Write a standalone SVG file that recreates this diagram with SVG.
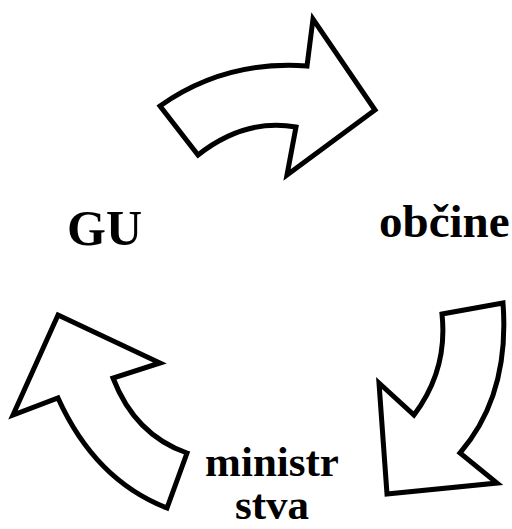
<svg xmlns="http://www.w3.org/2000/svg" width="512" height="529" viewBox="0 0 512 529">
<style>
.arrow{fill:#fff;stroke:#000;stroke-width:5;stroke-linejoin:miter;stroke-miterlimit:10}
.lbl{font-family:"Liberation Serif","Times New Roman",serif;font-weight:bold;fill:#000}
</style>
<rect width="512" height="529" fill="#fff"/>
<g id="connectors">
<path id="arrow-top" class="arrow" d="M160,106 Q225,60 307,66 L313,19 L375,110 L287,175 L296,127 Q245,118 198,155 Z"/>
<path id="arrow-right" class="arrow" d="M442,314 L503,303 Q510,395 460,453 L497,483 L387,494 L379,383 L414,415 Q448,370 442,314 Z"/>
<path id="arrow-left" class="arrow" d="M58,315 L160,363 L113,378 Q135,435 187,453 L167,508 Q95,480 58,398 L13,415 Z"/>
</g>
<g id="node-gu"><text class="lbl" x="67" y="245" font-size="50">GU</text></g>
<g id="node-obcine"><text class="lbl" x="379" y="237" font-size="47">občine</text></g>
<g id="node-ministrstva"><text class="lbl" x="272" y="476" font-size="43" text-anchor="middle">ministr</text><text class="lbl" x="272" y="519" font-size="43" text-anchor="middle">stva</text></g>
</svg>
